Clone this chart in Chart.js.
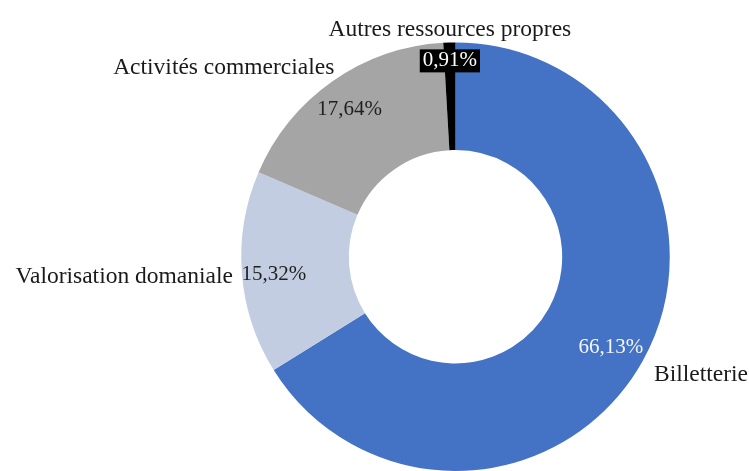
<!DOCTYPE html>
<html>
<head>
<meta charset="utf-8">
<script src="https://cdn.jsdelivr.net/npm/chart.js@4"></script>
<style>
  html, body { margin: 0; padding: 0; background: #fff; }
  #wrap { width: 749px; height: 471px; }
</style>
</head>
<body>
<div id="wrap"><canvas id="chart"></canvas></div>
<script>
const categories = ['Billetterie', 'Valorisation domaniale', 'Activités commerciales', 'Autres ressources propres'];
const shares = [66.13, 15.32, 17.64, 0.91];
const sliceColors = ['#4472C4', '#C3CDE1', '#A5A5A5', '#000000'];

// label placement, relative to each slice's middle angle
const labelStyle = [
  { r: 0.83, color: '#F4F6FB', box: null, pctDy: 4, catDx: 43, catDy: 32, catAlign: 'left' },
  { r: 0.85, color: '#1F1F1F', box: null, pctDy: 4, catDx: -41, catDy: 6, catAlign: 'right' },
  { r: 0.86, color: '#1F1F1F', box: null, pctDy: 4, catDx: -126, catDy: -38, catAlign: 'center' },
  { r: 0.917, color: '#FFFFFF', box: '#000000', pctDy: 0, catDx: 0, catDy: -31, catAlign: 'center' }
];

const PCT_FONT = '21px "Liberation Serif", serif';
const CAT_FONT = '23.5px "Liberation Serif", serif';
const fmt = v => v.toFixed(2).replace('.', ',') + '%';

const sliceLabels = {
  id: 'sliceLabels',
  afterDatasetsDraw(chart) {
    const ctx = chart.ctx;
    const meta = chart.getDatasetMeta(0);
    ctx.save();
    ctx.textBaseline = 'middle';
    meta.data.forEach((arc, i) => {
      const p = arc.getProps(['x', 'y', 'startAngle', 'endAngle', 'outerRadius'], true);
      const st = labelStyle[i];
      const mid = (p.startAngle + p.endAngle) / 2;
      const px = p.x + Math.cos(mid) * p.outerRadius * st.r;
      const py = p.y + Math.sin(mid) * p.outerRadius * st.r;
      const txt = fmt(shares[i]);
      ctx.font = PCT_FONT;
      const w = ctx.measureText(txt).width;
      if (st.box) {
        ctx.fillStyle = st.box;
        ctx.fillRect(px - w / 2 - 3, py - 11, w + 6, 23);
      }
      ctx.textAlign = 'center';
      ctx.fillStyle = st.color;
      ctx.fillText(txt, px, py + st.pctDy);

      ctx.font = CAT_FONT;
      ctx.textAlign = st.catAlign;
      ctx.fillStyle = '#1A1A1A';
      ctx.fillText(categories[i], px + st.catDx, py + st.catDy);
    });
    ctx.restore();
  }
};

new Chart(document.getElementById('chart'), {
  type: 'doughnut',
  data: {
    labels: categories,
    datasets: [{
      data: shares,
      backgroundColor: sliceColors,
      borderWidth: 0
    }]
  },
  options: {
    responsive: true,
    maintainAspectRatio: false,
    animation: false,
    cutout: '49.8%',
    layout: { padding: { top: 42.5, bottom: -5.5, left: 238.5, right: 76.5 } },
    plugins: { legend: { display: false }, tooltip: { enabled: false } }
  },
  plugins: [sliceLabels]
});
</script>
</body>
</html>
